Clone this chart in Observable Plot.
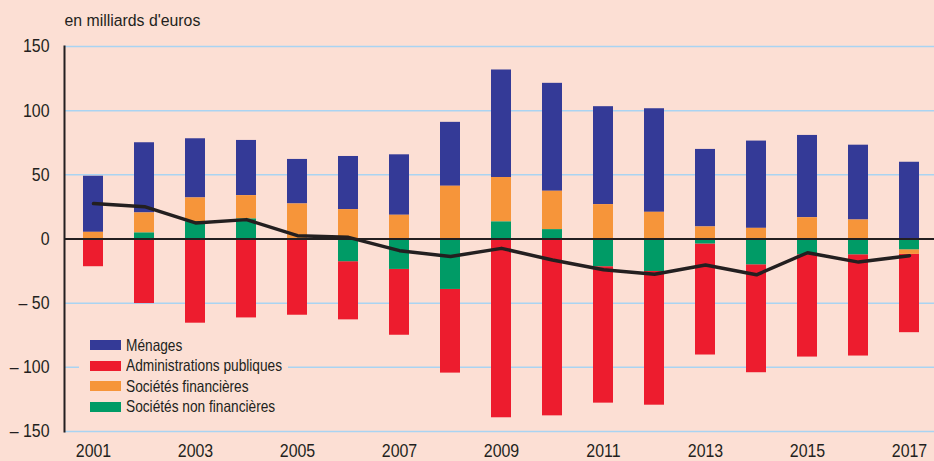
<!DOCTYPE html>
<html>
<head>
<meta charset="utf-8">
<script src="https://cdn.jsdelivr.net/npm/d3@7"></script>
<script src="https://cdn.jsdelivr.net/npm/@observablehq/plot@0.6"></script>
<style>
  html, body { margin: 0; padding: 0; background: #fcdfd4; }
  #wrap { position: relative; width: 934px; height: 461px; overflow: hidden; }
  .legend { position: absolute; left: 79px; top: 333px; width: 209px; height: 84px; background: #fcdfd4;
    font-family: 'Liberation Sans', Arial, sans-serif; font-size: 16.5px; color: #231f20; }
  .legend .row { position: absolute; left: 11px; height: 20px; display: flex; align-items: center; white-space: nowrap; }
  .legend .sw { width: 31px; height: 10px; margin-right: 5px; flex: none; }
  .legend .lab { display: inline-block; transform: scaleX(0.83); transform-origin: left center; }
</style>
</head>
<body>
<div id="wrap"></div>
<script>
const years = [2001,2002,2003,2004,2005,2006,2007,2008,2009,2010,2011,2012,2013,2014,2015,2016,2017];
const menages = [43.7,54.7,46.1,43.0,34.7,41.4,47.1,49.8,83.8,84.1,76.3,80.7,60.4,68.0,64.1,58.3,59.8];
const adminPub = [-21.6,-50.3,-65.6,-61.5,-59.4,-45.3,-51.3,-65.2,-139.3,-137.8,-106.3,-104.2,-86.5,-84.1,-79.7,-78.9,-61.0];
const socFin = [5.2,15.6,18.5,18.2,27.3,22.9,18.5,41.1,34.6,29.9,26.8,20.8,9.4,8.3,16.6,14.8,-3.6];
const socNonFin = [0,4.7,13.5,15.6,0,-17.7,-23.7,-39.3,13.3,7.3,-21.6,-25.3,-3.9,-20.1,-12.3,-12.3,-8.4];
const total = [27.6,25.2,12.5,15.1,2.6,1.3,-9.1,-13.6,-7.3,-16.4,-24.0,-27.4,-20.3,-27.9,-10.7,-18.0,-13.0];
const yTicks = [-150,-100,-50,0,50,100,150];
const xTicks = [2001,2003,2005,2007,2009,2011,2013,2015,2017];

const seriesNames = ["Ménages","Administrations publiques","Sociétés financières","Sociétés non financières"];
const seriesColors = ["#343a97","#ed1c2e","#f6953a","#009b66"];
const seriesValues = [menages, adminPub, socFin, socNonFin];
const stackOrder = ["Sociétés non financières","Sociétés financières","Ménages","Administrations publiques"];

const rows = [];
seriesNames.forEach((s, i) => years.forEach((y, j) => rows.push({year: y, series: s, value: seriesValues[i][j]})));
const lineData = years.map((y, j) => ({year: y, value: total[j]}));

const font = "'Liberation Sans', Arial, sans-serif";

const chart = Plot.plot({
  width: 934,
  height: 461,
  marginLeft: 64,
  marginRight: 0,
  marginTop: 46,
  marginBottom: 30,
  style: {background: "#fcdfd4", fontFamily: font, color: "#231f20"},
  x: {type: "band", domain: years, range: [64, 938], paddingInner: 0.6, paddingOuter: 0.3},
  y: {domain: [-150, 150]},
  color: {domain: seriesNames, range: seriesColors},
  marks: [
    Plot.gridY(yTicks, {stroke: "#a9d4f2", strokeOpacity: 1, strokeWidth: 1.5}),
    Plot.barY(rows, Plot.stackY({x: "year", y: "value", fill: "series", order: stackOrder})),
    Plot.ruleY([0], {stroke: "#231f20", strokeWidth: 1.8}),
    Plot.line(lineData, {x: "year", y: "value", stroke: "#231f20", strokeWidth: 3.5}),
    Plot.axisY({ticks: yTicks, tickSize: 0, tickPadding: 15, fontSize: 18.5, label: null,
      tickFormat: d => d < 0 ? "\u2013 " + Math.abs(d) : String(d)}),
    Plot.axisX({ticks: xTicks, tickSize: 0, tickPadding: 12, fontSize: 19, label: null,
      tickFormat: d => String(d)}),
    Plot.frame({anchor: "left", stroke: "#231f20", strokeWidth: 2}),
    Plot.text(["en milliards d'euros"], {frameAnchor: "top-left", dy: -33, dx: 0, fontSize: 17.4, fill: "#231f20"})
  ]
});
document.getElementById("wrap").appendChild(chart);

// condense text horizontally (narrow typeface look) around each label's anchor
d3.select(chart).selectAll("text").each(function() {
  const txt = this.textContent;
  let s = null;
  if (/^\d{4}$/.test(txt)) s = 0.84;
  else if (/^(\u2013 )?\d+$/.test(txt)) s = 0.86;
  else if (txt.startsWith("en milliards")) s = 0.91;
  if (s) {
    const el = d3.select(this);
    const x = parseFloat(el.attr("x"));
    const ox = Number.isFinite(x) ? x : 0;
    const t = el.attr("transform") || "";
    el.attr("transform", `${t} translate(${ox},0) scale(${s},1) translate(${-ox},0)`);
  }
});

const legend = document.createElement("div");
legend.className = "legend";
seriesNames.forEach((s, i) => {
  const row = document.createElement("div");
  row.className = "row";
  row.style.top = (2 + i * 20.6) + "px";
  const sw = document.createElement("span");
  sw.className = "sw";
  sw.style.background = seriesColors[i];
  const t = document.createElement("span");
  t.className = "lab";
  t.textContent = s;
  row.appendChild(sw);
  row.appendChild(t);
  legend.appendChild(row);
});
document.getElementById("wrap").appendChild(legend);
</script>
</body>
</html>
